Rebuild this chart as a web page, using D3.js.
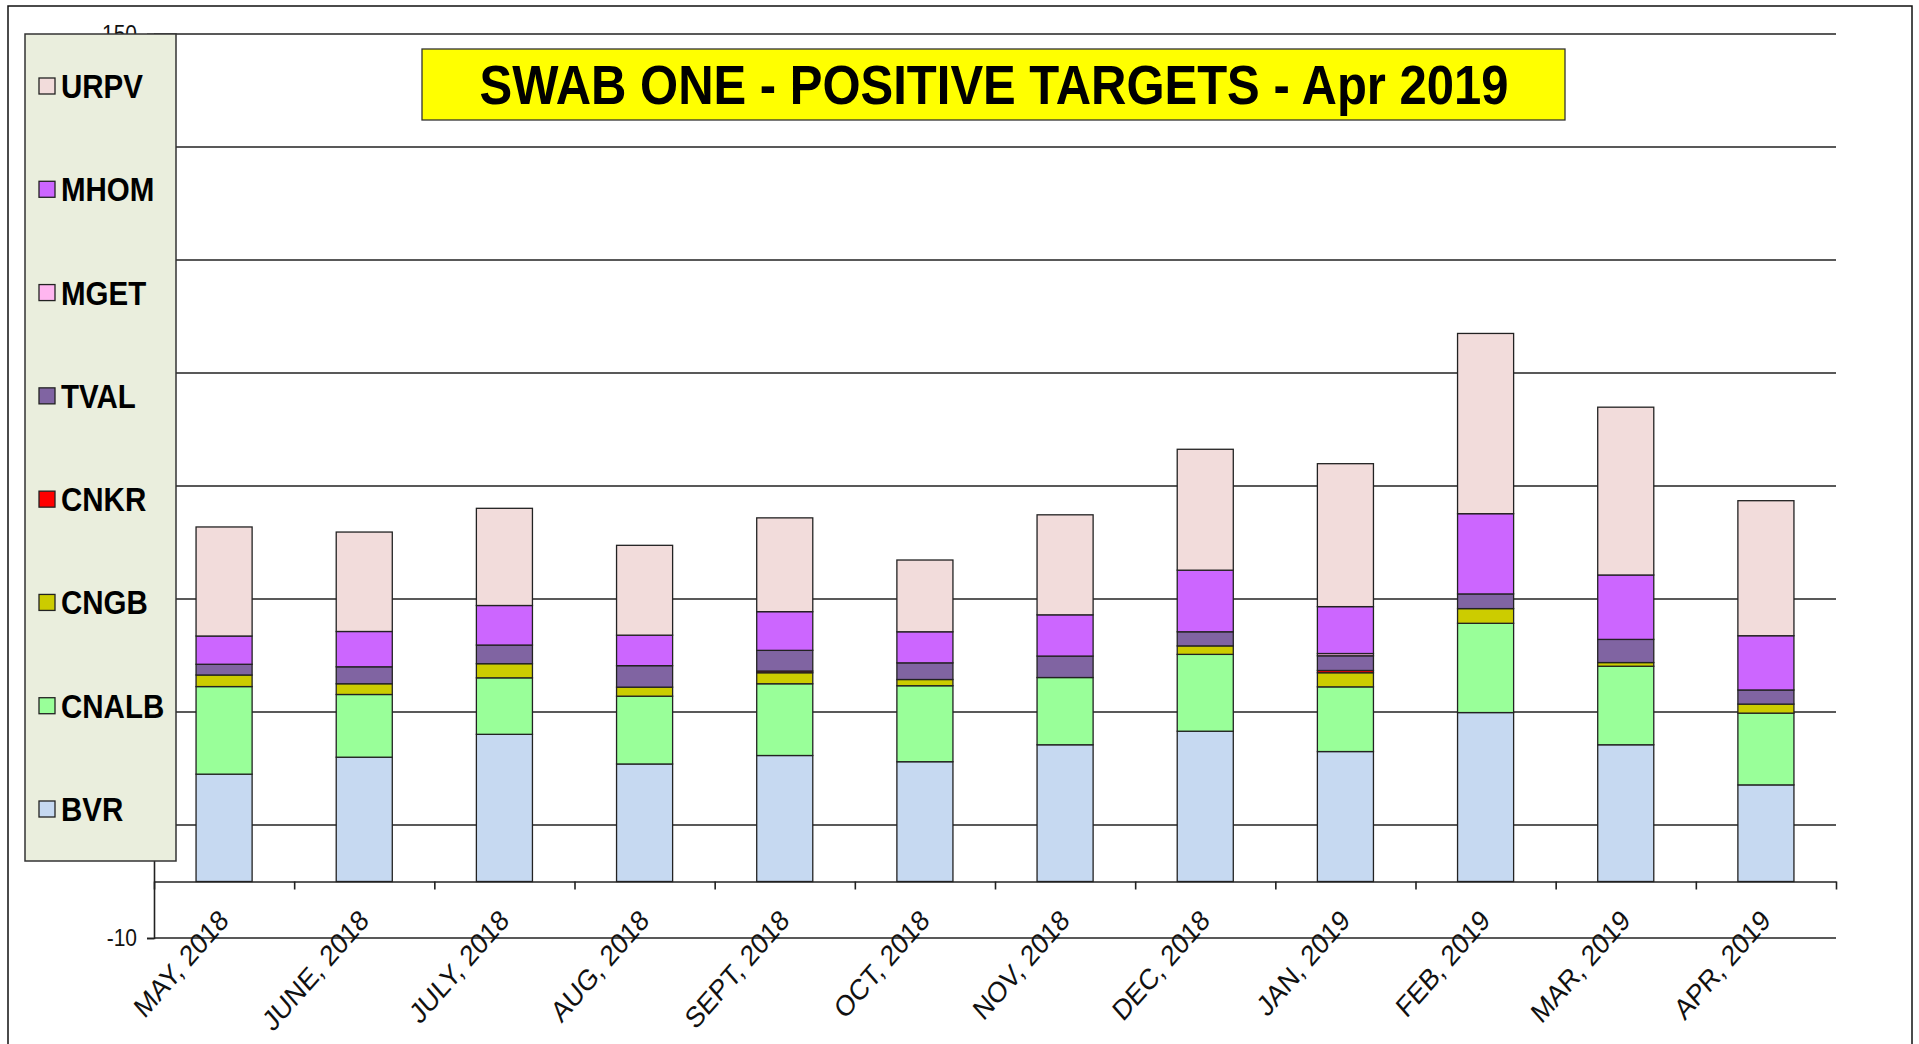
<!DOCTYPE html>
<html>
<head>
<meta charset="utf-8">
<script src="https://cdn.jsdelivr.net/npm/d3@7"></script>
<style>
  body { margin: 0; background: #fff; }
  svg { display: block; font-family: "Liberation Sans", Arial, sans-serif; }
</style>
</head>
<body>
<div id="chart"></div>
<script>
const months = ['MAY, 2018', 'JUNE, 2018', 'JULY, 2018', 'AUG, 2018', 'SEPT, 2018', 'OCT, 2018',
    'NOV, 2018', 'DEC, 2018', 'JAN, 2019', 'FEB, 2019', 'MAR, 2019', 'APR, 2019'];

// null = no value (nothing drawn), 0 = zero (drawn as a flat line)
const BVR   = [19.0, 22.0, 26.05, 20.8, 22.3, 21.2, 24.2, 26.6, 23.0, 29.9, 24.2, 17.1];
const CNALB = [15.5, 11.1, 10.0, 12.0, 12.7, 13.45, 11.9, 13.6, 11.45, 15.8, 13.9, 12.7];
const CNGB  = [2.05, 1.9, 2.5, 1.6, 1.95, 1.1, 0, 1.5, 2.5, 2.6, 0.65, 1.6];
const CNKR  = [0, 0, null, 0, 0.3, null, null, 0, 0.4, 0, 0, null];
const TVAL  = [1.9, 3.0, 3.3, 3.8, 3.66, 2.95, 3.8, 2.5, 2.6, 2.6, 4.1, 2.5];
const MGET  = [0, null, null, null, 0, null, null, null, 0.4, 0, null, null];
const MHOM  = [5.0, 6.25, 7.0, 5.4, 6.85, 5.5, 7.3, 10.9, 8.3, 14.2, 11.4, 9.6];
const URPV  = [19.3, 17.6, 17.2, 15.9, 16.6, 12.7, 17.7, 21.4, 25.3, 31.9, 29.7, 23.9];

const seriesNames = ['BVR', 'CNALB', 'CNGB', 'CNKR', 'TVAL', 'MGET', 'MHOM', 'URPV'];
const seriesValues = [BVR, CNALB, CNGB, CNKR, TVAL, MGET, MHOM, URPV];
const colors = ['#c6d9f1', '#99ff99', '#cccc00', '#ff0000', '#8064a2', '#ffb6f0', '#cc66ff', '#f2dcdb'];

const yTicks = d3.range(-10, 151, 20);
const yLabelled = [150, -10]; // the others sit behind the legend box
const titleText = 'SWAB ONE - POSITIVE TARGETS - Apr 2019';

const width = 1919;
const height = 1044;
const plot = {left: 154, right: 1836, top: 34, bottom: 938};
const stretch = 1.14; // text in the source is stretched vertically

const table = months.map((m, i) => {
    const row = {month: m};
    seriesNames.forEach((s, j) => row[s] = seriesValues[j][i]);
    return row;
});

const stacked = d3.stack().keys(seriesNames).value((d, k) => d[k] || 0)(table);

const x = d3.scaleBand()
    .domain(months)
    .range([plot.left, plot.right])
    .paddingInner(0.6)
    .paddingOuter(0.3);

const y = d3.scaleLinear()
    .domain([-10, 150])
    .range([plot.bottom, plot.top]);

const xIdx = d3.scaleLinear().domain([0, months.length]).range([plot.left, plot.right]);

const svg = d3.select('#chart').append('svg')
    .attr('width', width).attr('height', height);

svg.append('rect').attr('width', width).attr('height', height).attr('fill', '#fff');

// outer frame
svg.append('rect')
    .attr('x', 8).attr('y', 6).attr('width', 1904).attr('height', 1100)
    .attr('fill', 'none').attr('stroke', '#111').attr('stroke-width', 1.5);

// gridlines
svg.append('g')
    .selectAll('line').data(yTicks).enter().append('line')
    .attr('x1', plot.left).attr('x2', plot.right)
    .attr('y1', d => y(d)).attr('y2', d => y(d))
    .attr('stroke', '#222').attr('stroke-width', 1.6);

// y axis
svg.append('g')
    .attr('transform', `translate(${plot.left},0)`)
    .call(d3.axisLeft(y).tickValues(yTicks).tickSize(7).tickPadding(10)
        .tickFormat(d => yLabelled.includes(d) ? d : ''))
    .call(g => g.select('.domain').attr('stroke', '#222').attr('stroke-width', 1.6))
    .call(g => g.selectAll('.tick line').attr('stroke', '#222').attr('stroke-width', 1.6))
    .call(g => g.selectAll('.tick text')
        .attr('font-size', 21).attr('fill', '#111')
        .attr('font-family', '"Liberation Sans", Arial, sans-serif')
        .attr('transform', `scale(1,${stretch})`));

// bars
const layer = svg.append('g').selectAll('g').data(stacked).enter().append('g')
    .attr('fill', (d, i) => colors[i]);

layer.selectAll('rect')
    .data(d => d.map(p => Object.assign(p, {key: d.key})).filter(p => p.data[d.key] !== null))
    .enter().append('rect')
    .attr('x', d => x(d.data.month))
    .attr('width', x.bandwidth())
    .attr('y', d => y(d[1]))
    .attr('height', d => y(d[0]) - y(d[1]))
    .attr('stroke', '#222').attr('stroke-width', 1.3);

// category axis at zero
svg.append('g')
    .attr('transform', `translate(0,${y(0)})`)
    .call(d3.axisBottom(xIdx).ticks(months.length).tickFormat('').tickSize(8).tickSizeOuter(0))
    .call(g => g.select('.domain').attr('stroke', '#222').attr('stroke-width', 1.6))
    .call(g => g.selectAll('.tick line').attr('stroke', '#222').attr('stroke-width', 1.6));

// category labels
svg.append('g')
    .selectAll('text').data(months).enter().append('text')
    .attr('transform', d => `translate(${x(d) + x.bandwidth() / 2 + 6},922) scale(1,${stretch}) rotate(-45)`)
    .attr('text-anchor', 'end')
    .attr('font-size', 25.5)
    .attr('fill', '#111')
    .text(d => d);

// legend
const legend = svg.append('g');
legend.append('rect')
    .attr('x', 25).attr('y', 34).attr('width', 151).attr('height', 827)
    .attr('fill', '#eaeedd').attr('stroke', '#333').attr('stroke-width', 1.5);

const legendItems = seriesNames.slice().reverse();
const legendY = d3.scalePoint().domain(legendItems).range([86, 809]);

const item = legend.selectAll('g.item').data(legendItems).enter().append('g')
    .attr('class', 'item');
item.append('rect')
    .attr('x', 39).attr('y', d => legendY(d) - 8)
    .attr('width', 16).attr('height', 16)
    .attr('fill', d => colors[seriesNames.indexOf(d)])
    .attr('stroke', '#222').attr('stroke-width', 1.3);
item.append('text')
    .attr('transform', d => `translate(61,${legendY(d) + 12}) scale(1,${stretch})`)
    .attr('font-size', 29.5).attr('font-weight', 'bold').attr('fill', '#000')
    .text(d => d);

// title
svg.append('rect')
    .attr('x', 422).attr('y', 49).attr('width', 1143).attr('height', 71)
    .attr('fill', '#ffff00').attr('stroke', '#333').attr('stroke-width', 1.3);
svg.append('text')
    .attr('transform', `translate(994,104) scale(1,${stretch})`)
    .attr('text-anchor', 'middle')
    .attr('font-size', 49).attr('font-weight', 'bold').attr('fill', '#000')
    .text(titleText);
</script>
</body>
</html>
